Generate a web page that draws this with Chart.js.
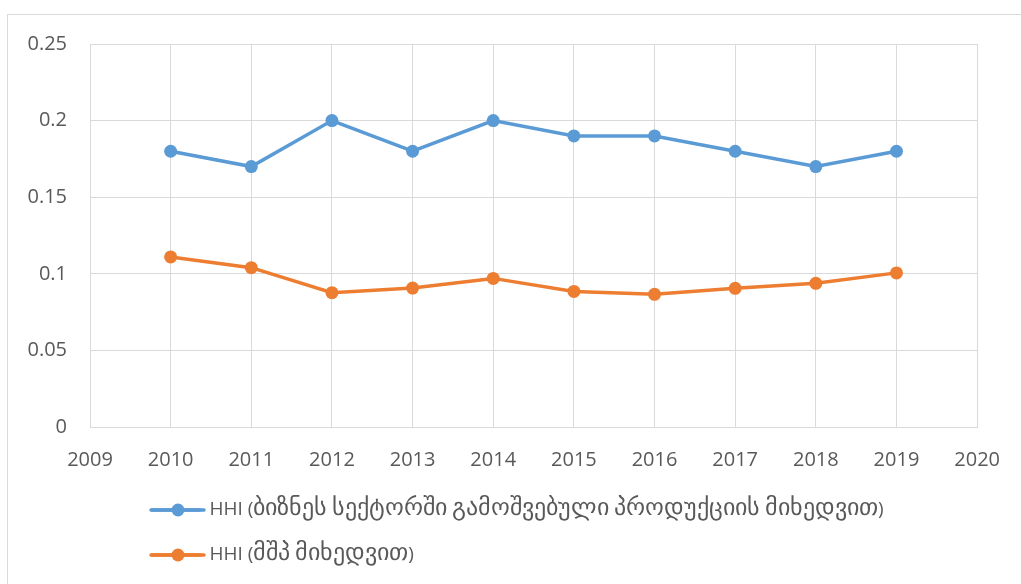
<!DOCTYPE html>
<html>
<head>
<meta charset="utf-8">
<script src="https://cdn.jsdelivr.net/npm/chart.js@4/dist/chart.umd.min.js"></script>
<style>
  @font-face {
    font-family: 'GeoFallback';
    src: local('DejaVu Sans'), local('DejaVuSans');
    unicode-range: U+10A0-10FF;
    size-adjust: 125%;
  }
  html, body { margin: 0; padding: 0; background: #ffffff; overflow: hidden; }
  #frame { position: absolute; left: 7px; top: 14px; width: 1040px; height: 620px; border: 1px solid #d9d9d9; box-sizing: border-box; }
  #wrap { position: absolute; left: 0; top: 0; width: 1021px; height: 584px; }
</style>
</head>
<body>
<div id="frame"></div>
<div id="wrap"><canvas id="c" width="1021" height="584"></canvas></div>
<script>
const years = [2010, 2011, 2012, 2013, 2014, 2015, 2016, 2017, 2018, 2019];
const hhiBusiness = [0.18, 0.17, 0.20, 0.18, 0.20, 0.19, 0.19, 0.18, 0.17, 0.18];
const hhiGdp = [0.111, 0.104, 0.0877, 0.0907, 0.097, 0.0885, 0.0866, 0.0905, 0.0938, 0.1006];
const seriesNames = [
  'HHI (ბიზნეს სექტორში გამოშვებული პროდუქციის მიხედვით)',
  'HHI (მშპ მიხედვით)'
];
const xMin = 2009, xMax = 2020;
const yMin = 0, yMax = 0.25, yStep = 0.05;

const FONT = "'Open Sans', 'DejaVu Sans', sans-serif";
const LEGEND_FONT = "'Open Sans', 'GeoFallback', 'DejaVu Sans', sans-serif";
const TEXT = '#595959';
const GRID = '#d9d9d9';
const BLUE = '#5b9bd5';
const ORANGE = '#ed7d31';
const LEGEND_X = 151;   // left end of first legend marker line
const LEGEND_Y = 510;   // centre of first legend row
const MARKER_LEN = 54;

const legendMarkers = {
  id: 'legendMarkers',
  afterLayout(chart) {
    const lg = chart.legend;
    if (!lg) return;
    const pad = lg.options.labels.padding;
    const fs = lg.options.labels.font.size;
    const w = lg.right - lg.left, h = lg.bottom - lg.top;
    lg.left = LEGEND_X - pad; lg.right = lg.left + w;
    lg.top = LEGEND_Y - pad - fs / 2; lg.bottom = lg.top + h;
  },
  afterDraw(chart) {
    const lg = chart.legend;
    if (!lg || !lg.legendItems) return;
    const opts = lg.options.labels;
    const pad = opts.padding;
    const fs = opts.font.size;
    const ctx = chart.ctx;
    lg.legendItems.forEach((item, i) => {
      const x0 = lg.left + pad;
      const cx = x0 + MARKER_LEN / 2;
      const cy = lg.top + pad + fs / 2 + i * (fs + pad);
      ctx.save();
      ctx.strokeStyle = item.strokeStyle;
      ctx.lineWidth = 3.5;
      ctx.lineCap = 'round';
      ctx.beginPath();
      ctx.moveTo(x0 + 1, cy);
      ctx.lineTo(x0 + MARKER_LEN - 1, cy);
      ctx.stroke();
      ctx.beginPath();
      ctx.arc(cx, cy, 6.5, 0, Math.PI * 2);
      ctx.fillStyle = item.strokeStyle;
      ctx.fill();
      ctx.restore();
    });
  }
};

function build() {
  const ctx = document.getElementById('c').getContext('2d');
  new Chart(ctx, {
    type: 'line',
    data: {
      datasets: [
        {
          label: seriesNames[0],
          data: years.map((y, i) => ({ x: y, y: hhiBusiness[i] })),
          borderColor: BLUE, backgroundColor: BLUE,
          borderWidth: 3.5, pointRadius: 6.5, pointHoverRadius: 6.5,
          pointBorderWidth: 0, tension: 0
        },
        {
          label: seriesNames[1],
          data: years.map((y, i) => ({ x: y, y: hhiGdp[i] })),
          borderColor: ORANGE, backgroundColor: ORANGE,
          borderWidth: 3.5, pointRadius: 6.5, pointHoverRadius: 6.5,
          pointBorderWidth: 0, tension: 0
        }
      ]
    },
    options: {
      responsive: false,
      animation: false,
      devicePixelRatio: 1,
      layout: { padding: { left: 0, top: 44, right: 40, bottom: 0 } },
      scales: {
        x: {
          type: 'linear', min: xMin, max: xMax,
          afterFit(scale) { scale.height = scale.height - 9; },
          ticks: { stepSize: 1, color: TEXT, font: { family: FONT, size: 20 }, padding: 21,
                   callback: v => String(v), maxRotation: 0, autoSkip: false },
          grid: { color: GRID, lineWidth: 1, drawTicks: false },
          border: { color: GRID, width: 1 }
        },
        y: {
          min: yMin, max: yMax,
          afterFit(scale) { scale.width = 90; },
          ticks: { stepSize: yStep, color: TEXT, font: { family: FONT, size: 20 }, padding: 23,
                   callback: v => String(Math.round(v * 100) / 100) },
          grid: { color: GRID, lineWidth: 1, drawTicks: false },
          border: { color: GRID, width: 1 }
        }
      },
      plugins: {
        legend: {
          position: 'bottom', align: 'start', fullSize: false,
          labels: {
            usePointStyle: true, pointStyle: 'line', pointStyleWidth: 49,
            color: TEXT, font: { family: LEGEND_FONT, size: 19 }, padding: 26,
            generateLabels(chart) {
              const items = Chart.defaults.plugins.legend.labels.generateLabels(chart);
              items.forEach((it) => {
                const ds = chart.data.datasets[it.datasetIndex];
                it.lineWidth = 3.5;
                it.strokeStyle = ds.borderColor;
                it.fillStyle = ds.borderColor;
                it.lineCap = 'round';
              });
              return items;
            }
          }
        },
        tooltip: { enabled: false }
      }
    },
    plugins: [legendMarkers]
  });
}

Promise.all([
  document.fonts.load("19px 'GeoFallback'", 'ბიზნეს'),
  document.fonts.load("20px 'Open Sans'", '0123')
]).then(build, build);
</script>
</body>
</html>
